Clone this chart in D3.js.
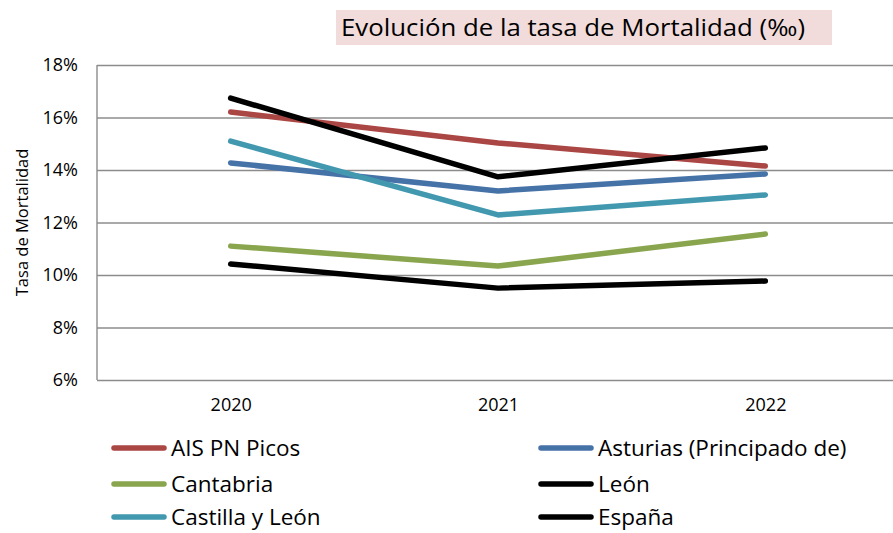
<!DOCTYPE html>
<html>
<head>
<meta charset="utf-8">
<script src="https://cdn.jsdelivr.net/npm/d3@7"></script>
<style>
  body { margin: 0; background: #fff; }
  text { font-family: "Open Sans", "Liberation Sans", sans-serif; fill: #000; }
</style>
</head>
<body>
<script>
(function(){
    // data
    var years = ["2020", "2021", "2022"];
    var seriesNames = ["AIS PN Picos", "Asturias (Principado de)", "Cantabria", "León", "Castilla y León", "España"];
    var picos = [0.1621, 0.1503, 0.1415];
    var asturias = [0.1427, 0.1320, 0.1385];
    var cantabria = [0.1110, 0.1034, 0.1156];
    var leon = [0.1674, 0.1374, 0.1484];
    var castilla = [0.1510, 0.1229, 0.1305];
    var espana = [0.1042, 0.0950, 0.0977];
    var yTicks = [0.06, 0.08, 0.10, 0.12, 0.14, 0.16, 0.18];

    var seriesValues = [picos, asturias, cantabria, leon, castilla, espana];
    var colors = ["#AA4643", "#4572A7", "#89A54E", "#000000", "#4198AF", "#000000"];

    var W = 893, H = 533;
    var left = 97, right = 899, top = 65, bottom = 380;

    var svg = d3.select("body").append("svg")
        .attr("width", W).attr("height", H);

    var x = d3.scalePoint().domain(years).range([left, right]).padding(0.5);
    var y = d3.scaleLinear().domain([0.06, 0.18]).range([bottom, top]);

    // title
    svg.append("rect").attr("x", 336).attr("y", 10).attr("width", 496).attr("height", 35)
        .attr("fill", "#F2DCDB");
    svg.append("text").attr("x", 341).attr("y", 36)
        .attr("font-size", 23)
        .attr("textLength", 464).attr("lengthAdjust", "spacingAndGlyphs")
        .text("Evolución de la tasa de Mortalidad (‰)");

    // gridlines + y labels
    var yAxis = svg.append("g").attr("transform", "translate(" + left + ",0)")
        .call(d3.axisLeft(y).tickValues(yTicks).tickFormat(d3.format(".0%"))
            .tickSize(-(right - left)).tickPadding(19));
    yAxis.select(".domain").remove();
    yAxis.selectAll(".tick line").attr("stroke", "#8C8C8C").attr("stroke-width", 1.4);
    yAxis.selectAll(".tick text").attr("font-size", 18).attr("font-family", "Open Sans, sans-serif");

    svg.append("line").attr("x1", left).attr("x2", left).attr("y1", top).attr("y2", bottom)
        .attr("stroke", "#8C8C8C").attr("stroke-width", 1.4);

    // y axis title
    svg.append("text")
        .attr("transform", "translate(22," + ((top + bottom) / 2) + ") rotate(-90)")
        .attr("text-anchor", "middle").attr("dy", "0.35em").attr("font-size", 16.5)
        .text("Tasa de Mortalidad");

    // x labels
    var xAxis = svg.append("g").attr("transform", "translate(0," + bottom + ")")
        .call(d3.axisBottom(x).tickSize(0).tickPadding(18));
    xAxis.select(".domain").remove();
    xAxis.selectAll(".tick text").attr("font-size", 18).attr("font-family", "Open Sans, sans-serif");

    // lines
    var line = d3.line()
        .x(function(d, i) { return x(years[i]); })
        .y(function(d) { return y(d); });

    svg.selectAll("path.series").data(seriesValues)
        .enter()
        .append("path").attr("class", "series")
        .attr("d", line)
        .attr("fill", "none")
        .attr("stroke", function(d, i) { return colors[i]; })
        .attr("stroke-width", 5.5)
        .attr("stroke-linecap", "round")
        .attr("stroke-linejoin", "round");

    // legend
    var legend = svg.selectAll("g.leg").data(seriesNames)
        .enter().append("g").attr("class", "leg")
        .attr("transform", function(d, i) {
            var lx = (i % 2 === 0) ? 114 : 541;
            var ly = [448, 484, 517][Math.floor(i / 2)];
            return "translate(" + lx + "," + ly + ")";
        });
    legend.append("line").attr("x1", 0).attr("x2", 50).attr("y1", 0).attr("y2", 0)
        .attr("stroke", function(d, i) { return colors[i]; })
        .attr("stroke-width", 5.5).attr("stroke-linecap", "round");
    legend.append("text").attr("x", 57).attr("y", 0).attr("dy", "0.35em")
        .attr("font-size", 22.5)
        .text(function(d) { return d; });
})();
</script>
</body>
</html>
